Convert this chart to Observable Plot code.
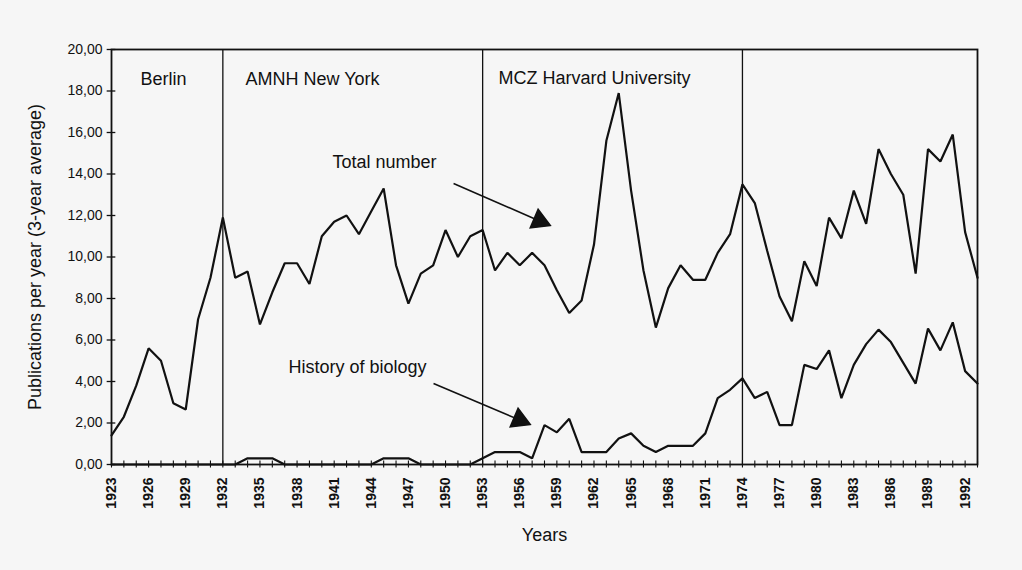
<!DOCTYPE html>
<html>
<head>
<meta charset="utf-8">
<script src="https://cdn.jsdelivr.net/npm/d3@7"></script>
<script src="https://cdn.jsdelivr.net/npm/@observablehq/plot@0.6"></script>
<style>
html, body { margin: 0; padding: 0; background: #f6f6f6; }
#chart svg { display: block; }
</style>
</head>
<body>
<div id="chart"></div>
<script>
// ---- Data ----
const years = [1923,1924,1925,1926,1927,1928,1929,1930,1931,1932,1933,1934,1935,1936,1937,1938,1939,1940,1941,1942,1943,1944,1945,1946,1947,1948,1949,1950,1951,1952,1953,1954,1955,1956,1957,1958,1959,1960,1961,1962,1963,1964,1965,1966,1967,1968,1969,1970,1971,1972,1973,1974,1975,1976,1977,1978,1979,1980,1981,1982,1983,1984,1985,1986,1987,1988,1989,1990,1991,1992,1993];

const totalNumber = [1.4,2.3,3.8,5.6,5.0,2.95,2.65,7.0,9.0,11.9,9.0,9.3,6.75,8.3,9.7,9.7,8.7,11.0,11.7,12.0,11.1,12.2,13.3,9.6,7.75,9.2,9.6,11.3,10.0,11.0,11.3,9.35,10.2,9.6,10.2,9.6,8.4,7.3,7.9,10.6,15.6,17.9,13.2,9.35,6.6,8.5,9.6,8.9,8.9,10.2,11.1,13.5,12.6,10.3,8.1,6.9,9.8,8.6,11.9,10.9,13.2,11.6,15.2,14.0,13.0,9.2,15.2,14.6,15.9,11.2,9.0];

const historyOfBiology = [0,0,0,0,0,0,0,0,0,0,0,0.3,0.3,0.3,0,0,0,0,0,0,0,0,0.3,0.3,0.3,0,0,0,0,0,0.3,0.6,0.6,0.6,0.3,1.9,1.55,2.2,0.6,0.6,0.6,1.25,1.5,0.9,0.6,0.9,0.9,0.9,1.5,3.2,3.6,4.15,3.2,3.5,1.9,1.9,4.8,4.6,5.5,3.2,4.8,5.8,6.5,5.9,4.9,3.9,6.55,5.5,6.85,4.5,3.9];

const yTickValues = [0,2,4,6,8,10,12,14,16,18,20];
const xLabelYears = [1923,1926,1929,1932,1935,1938,1941,1944,1947,1950,1953,1956,1959,1962,1965,1968,1971,1974,1977,1980,1983,1986,1989,1992];
const periodBoundaries = [1932,1953,1974];
const periodNames = ["Berlin","AMNH New York","MCZ Harvard University"];
const seriesNames = ["Total number","History of biology"];
const yAxisTitle = "Publications per year (3-year average)";
const xAxisTitle = "Years";

// ---- Annotation placement (data coordinates) ----
const periodLabelPos = [[1925.34,18.55],[1933.83,18.55],[1954.28,18.6]];
const seriesLabelPos = [[1940.86,14.55],[1937.31,4.67]];
const arrowPos = [
  {x1:1950.65, y1:13.54, x2:1957.6, y2:11.74},
  {x1:1949.03, y1:3.90, x2:1955.98, y2:2.15}
];

const totalRows = years.map((y, i) => ({year: y, value: totalNumber[i]}));
const histRows = years.map((y, i) => ({year: y, value: historyOfBiology[i]}));
const periodRows = periodNames.map((n, i) => ({name: n, x: periodLabelPos[i][0], y: periodLabelPos[i][1]}));
const seriesRows = seriesNames.map((n, i) => ({name: n, x: seriesLabelPos[i][0], y: seriesLabelPos[i][1]}));

const fmt = d => d.toFixed(2).replace(".", ",");
const ink = "#111";
const font = "'Liberation Sans', Arial, sans-serif";

const chart = Plot.plot({
  width: 1022,
  height: 570,
  marginLeft: 111,
  marginRight: 45,
  marginTop: 49,
  marginBottom: 106,
  style: {background: "transparent", fontFamily: font, color: ink},
  x: {domain: [1923, 1993]},
  y: {domain: [0, 20]},
  marks: [
    // y tick labels
    Plot.axisY(yTickValues, {tickSize: 0, tickPadding: 9, tickFormat: fmt, fontSize: 14, label: null}),
    // y tick marks crossing the axis
    Plot.ruleY(yTickValues, {x1: 1922.65, x2: 1923.35, stroke: ink, strokeWidth: 1.3}),
    // x tick marks crossing the axis (every year)
    Plot.ruleX(years, {y1: -0.17, y2: 0.17, stroke: ink, strokeWidth: 1.1}),
    // x tick labels every 3 years
    Plot.axisX(xLabelYears, {tickSize: 0, tickPadding: 13, tickRotate: -90, tickFormat: d => String(d), fontSize: 14, fontWeight: "bold", label: null}),
    // period boundaries
    Plot.ruleX(periodBoundaries, {stroke: ink, strokeWidth: 1.3}),
    // series
    Plot.line(totalRows, {x: "year", y: "value", stroke: ink, strokeWidth: 2.2, strokeLinejoin: "miter"}),
    Plot.line(histRows, {x: "year", y: "value", stroke: ink, strokeWidth: 2.2, strokeLinejoin: "miter"}),
    Plot.frame({stroke: ink, strokeWidth: 1.8}),
    // period names
    Plot.text(periodRows, {x: "x", y: "y", text: "name", textAnchor: "start", fontSize: 18, fill: ink}),
    // series labels
    Plot.text(seriesRows, {x: "x", y: "y", text: "name", textAnchor: "start", fontSize: 18, fill: ink}),
    // arrows
    Plot.link(arrowPos, {x1: "x1", y1: "y1", x2: "x2", y2: "y2", stroke: ink, strokeWidth: 1.6}),
    Plot.dot(arrowPos, {x: "x2", y: "y2", symbol: "triangle", r: 7.5, fill: ink, stroke: ink, rotate: 113}),
    // axis titles
    Plot.text([yAxisTitle], {frameAnchor: "left", textAnchor: "middle", lineAnchor: "middle", dx: -76, rotate: -90, fontSize: 18, fill: ink}),
    Plot.text([xAxisTitle], {frameAnchor: "bottom", textAnchor: "middle", lineAnchor: "middle", dy: 71, fontSize: 18, fill: ink})
  ]
});

document.getElementById("chart").appendChild(chart);
</script>
</body>
</html>
